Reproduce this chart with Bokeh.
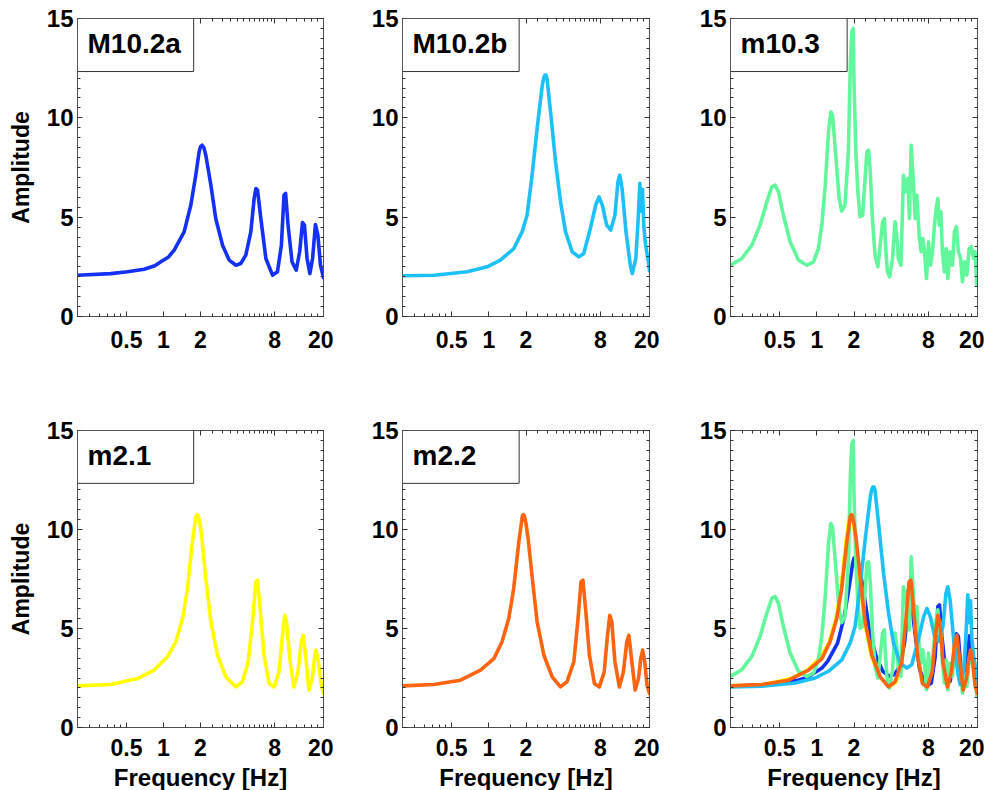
import numpy as np
from bokeh.plotting import figure
from bokeh.models import Range1d, FixedTicker, LinearAxis, LogAxis, BoxAnnotation, Label
from bokeh.layouts import row, column
from bokeh.embed import file_html
from bokeh.resources import INLINE

# ---------------- data ----------------
f_m102a = [0.2, 0.373, 0.51, 0.697, 0.85, 0.952, 1.1, 1.222, 1.472, 1.668, 1.83, 1.95, 2.0, 2.06,
           2.13, 2.21, 2.43, 2.66, 3.02, 3.42, 3.88, 4.25, 4.67, 5.13, 5.46, 5.64, 5.82, 6.19,
           6.8, 7.7, 8.45, 9.09, 9.55, 9.84, 10.3, 11.1, 12.0, 12.8, 13.5, 14.0, 14.7, 15.5,
           16.3, 17.2, 18.0, 18.9, 20.0]
a_m102a = [2.08, 2.16, 2.25, 2.38, 2.55, 2.75, 3.0, 3.34, 4.26, 5.6, 7.11, 8.29, 8.55, 8.62,
           8.5, 8.12, 6.61, 4.93, 3.59, 2.84, 2.58, 2.67, 3.09, 4.26, 5.94, 6.44, 6.36, 4.93,
           2.92, 2.08, 2.25, 3.59, 6.11, 6.19, 4.6, 2.75, 2.33, 3.26, 4.73, 4.6, 2.92, 2.16,
           2.92, 4.63, 4.09, 2.58, 1.95]

f_m102b = [0.2, 0.359, 0.668, 0.970, 1.24, 1.594, 1.86, 2.04, 2.24, 2.46, 2.71, 2.78, 2.84, 2.9,
           2.96, 3.16, 3.47, 3.81, 4.18, 4.73, 5.35, 5.87, 6.64, 7.33, 7.8, 8.3, 9.0, 9.7, 10.5,
           11.1, 11.5, 12.0, 12.9, 14.0, 14.5, 15.5, 16.2, 16.7, 17.1, 17.55, 18.0, 18.6, 19.8,
           20.0]
a_m102b = [2.05, 2.08, 2.25, 2.5, 2.84, 3.42, 4.26, 5.1, 7.11, 9.46, 11.64, 12.0, 12.15, 12.15,
           11.98, 10.3, 7.79, 5.77, 4.26, 3.26, 3.0, 3.17, 4.43, 5.6, 6.02, 5.6, 4.6, 4.35, 5.1,
           6.78, 7.11, 6.44, 4.26, 2.58, 2.16, 2.92, 4.93, 6.7, 5.3, 6.4, 4.5, 3.6, 2.58, 2.3]

f_m103 = [0.2, 0.247, 0.298, 0.347, 0.394, 0.432, 0.46, 0.489, 0.536, 0.608, 0.71, 0.83, 0.94,
          1.03, 1.098, 1.17, 1.243, 1.3, 1.34, 1.43, 1.517, 1.59, 1.69, 1.8, 1.87, 1.92, 1.97,
          2.0, 2.07, 2.15, 2.24, 2.35, 2.46, 2.54, 2.62, 2.71, 2.82, 2.96, 3.12, 3.26, 3.41, 3.52,
          3.6, 3.73, 3.89, 4.1, 4.3, 4.46, 4.57, 4.8, 5.03, 5.26, 5.46, 5.62, 5.81, 6.07, 6.26,
          6.45, 6.74, 7.0, 7.22, 7.45, 7.73, 8.02, 8.33, 8.64, 8.97, 9.26, 9.55, 9.79, 10.1, 10.4,
          10.8, 11.15, 11.5, 12.0, 12.55, 13.0, 13.5, 14.0, 14.6, 15.1, 15.7, 16.4, 17.1, 17.8,
          18.6, 19.1, 19.75, 20.0]
a_m103 = [2.58, 2.92, 3.59, 4.6, 5.77, 6.53, 6.61, 6.28, 5.1, 3.76, 2.84, 2.58, 2.75,
          3.42, 4.6, 6.61, 9.3, 10.3, 10.13, 7.95, 5.94, 5.3, 5.6, 8.29, 12.8, 14.33, 14.5,
          11.8, 8.29, 6.28, 5.02, 5.1, 6.95, 8.29, 8.37, 7.28, 4.93, 3.09, 2.5, 3.59, 4.77, 4.93,
          3.59, 2.25, 2.0, 2.92, 4.77, 3.93, 2.92, 2.58, 7.11, 6.28, 6.95, 4.93, 8.62, 6.61, 4.93,
          6.11, 4.09, 3.26, 3.93, 3.26, 1.91, 3.76, 2.58, 3.26, 4.6, 5.44, 5.94, 4.6, 5.27, 3.26,
          2.25, 3.42, 1.91, 3.26, 2.58, 4.26, 4.51, 3.26, 2.92, 1.74, 2.75, 2.08, 3.42, 3.51,
          2.92, 3.26, 1.58, 1.6]

f_m21 = [0.2, 0.373, 0.615, 0.84, 1.078, 1.26, 1.43, 1.568, 1.72, 1.83, 1.87, 1.91, 1.97, 2.04,
         2.21, 2.43, 2.75, 3.21, 3.88, 4.39, 4.88, 5.3, 5.64, 5.82, 6.11, 6.58, 7.23, 7.93, 8.7,
         9.28, 9.68, 10.0, 10.7, 11.5, 12.4, 13.2, 13.7, 14.3, 15.2, 16.2, 16.9, 17.4, 18.2, 19.2,
         20.0]
a_m21 = [2.1, 2.17, 2.47, 2.9, 3.57, 4.33, 5.5, 7.02, 9.38, 10.64, 10.75, 10.72, 10.4, 9.71,
         7.53, 5.34, 3.65, 2.56, 2.05, 2.31, 3.32, 5.34, 7.36, 7.44, 6.01, 3.65, 2.22, 2.05, 2.81,
         4.66, 5.67, 5.34, 3.32, 2.05, 2.81, 4.33, 4.66, 3.65, 1.89, 2.47, 3.48, 3.91, 3.32, 2.14,
         1.72]

f_m22 = [0.2, 0.359, 0.59, 0.856, 1.099, 1.28, 1.45, 1.59, 1.75, 1.87, 1.905, 1.94, 2.0, 2.08,
         2.25, 2.46, 2.79, 3.26, 3.8, 4.3, 4.88, 5.25, 5.58, 5.78, 6.07, 6.53, 7.16, 7.85, 8.6,
         9.14, 9.54, 9.9, 10.5, 11.4, 12.3, 13.1, 13.6, 14.2, 15.3, 16.3, 17.0, 17.6, 18.3, 19.1,
         20.0]
a_m22 = [2.1, 2.17, 2.39, 2.9, 3.48, 4.33, 5.5, 7.02, 9.38, 10.69, 10.75, 10.69, 10.3, 9.55,
         7.53, 5.34, 3.65, 2.56, 2.05, 2.31, 3.32, 5.34, 7.36, 7.44, 6.01, 3.65, 2.22, 2.05, 2.81,
         4.66, 5.67, 5.34, 3.32, 2.05, 2.81, 4.33, 4.66, 3.65, 1.89, 2.47, 3.48, 3.91, 3.32, 2.14,
         1.72]

names = ["M10.2a", "M10.2b", "m10.3", "m2.1", "m2.2"]
x_tick_values = [0.5, 1, 2, 8, 20]
y_tick_values = [0, 5, 10, 15]

# ---------------- style ----------------
FONT = "Liberation Sans"
COL = {"M10.2a": "#1430f2", "M10.2b": "#1ec0f8", "m10.3": "#62f79c",
       "m2.1": "#ffff00", "m2.2": "#ff6410"}
SERIES = {"M10.2a": (f_m102a, a_m102a), "M10.2b": (f_m102b, a_m102b),
          "m10.3": (f_m103, a_m103), "m2.1": (f_m21, a_m21), "m2.2": (f_m22, a_m22)}
LW = 3.6
X_MINOR = [0.25, 0.3, 0.35, 0.4, 0.45, 1.5, 2.5, 3, 3.5, 4, 4.5, 5, 5.5, 6, 6.5, 7, 7.5,
           10, 12, 14, 16, 18]
Y_MINOR = [i * 0.5 for i in range(31)]
EDGE = "#505050"


def style_axis(ax, labels=True, size="23px"):
    ax.major_tick_in = 5
    ax.major_tick_out = 0
    ax.minor_tick_in = 3
    ax.minor_tick_out = 0
    ax.major_tick_line_color = "#333333"
    ax.minor_tick_line_color = "#333333"
    ax.axis_line_color = EDGE
    if labels:
        ax.major_label_text_font = FONT
        ax.major_label_text_font_style = "bold"
        ax.major_label_text_font_size = size
        ax.major_label_text_color = "black"
    else:
        ax.major_label_text_font_size = "0px"
        ax.major_label_text_color = None
        ax.major_label_standoff = 0


def panel(col, rw, series_names, box_text):
    lb = [77, 69, 71][col]
    rb = [10, 10, 7][col]
    tb = [18, 54][rw]
    bb = [60, 53][rw]
    fh = [298, 297][rw]
    fw = [246, 247, 247][col]
    p = figure(frame_width=fw, frame_height=fh, x_axis_type="log",
               x_range=Range1d(0.2, 20), y_range=Range1d(0, 15),
               output_backend="svg", toolbar_location=None,
               min_border_left=lb, min_border_right=rb,
               min_border_top=tb, min_border_bottom=bb)
    p.xgrid.visible = False
    p.ygrid.visible = False
    p.outline_line_color = EDGE
    p.outline_line_width = 1
    p.background_fill_color = "white"
    p.border_fill_color = "white"

    xt = FixedTicker(ticks=x_tick_values, minor_ticks=X_MINOR)
    yt = FixedTicker(ticks=y_tick_values, minor_ticks=Y_MINOR)
    xa = p.below[0]
    ya = p.left[0]
    xa.ticker = xt
    ya.ticker = yt
    xa.major_label_overrides = {0.5: "0.5", 1: "1", 2: "2", 8: "8", 20: "20"}
    style_axis(xa, True, "23px")
    style_axis(ya, True, "24px")
    xa.major_label_standoff = 14 if rw == 0 else 11
    ya.major_label_standoff = 4

    ra = LinearAxis(ticker=yt)
    style_axis(ra, False)
    p.add_layout(ra, "right")
    ta = LogAxis(ticker=xt)
    style_axis(ta, False)
    p.add_layout(ta, "above")

    if col == 0:
        ya.axis_label = "Amplitude"
        ya.axis_label_text_font = FONT
        ya.axis_label_text_font_style = "bold"
        ya.axis_label_text_font_size = "23px"
        ya.axis_label_text_color = "black"
        ya.axis_label_standoff = 10
    if rw == 1:
        xa.axis_label = "Frequency [Hz]"
        xa.axis_label_text_font = FONT
        xa.axis_label_text_font_style = "bold"
        xa.axis_label_text_font_size = "24px"
        xa.axis_label_text_color = "black"
        xa.axis_label_standoff = 5

    for nm in series_names:
        fx, ay = SERIES[nm]
        p.line(fx, ay, line_color=COL[nm], line_width=LW, line_join="round", line_cap="round")

    if box_text:
        p.add_layout(BoxAnnotation(left=0.2, right=1.76, bottom=12.33, top=15,
                                   fill_color="white", fill_alpha=1.0,
                                   line_color="#333333", line_alpha=1.0, line_width=1,
                                   level="overlay"))
        p.add_layout(Label(x=0.2, y=15, x_offset=10, y_offset=-9, text=box_text,
                           text_baseline="top", text_align="left", text_font=FONT,
                           text_font_style="bold", text_font_size="28px", text_color="black",
                           level="overlay"))
    return p


p1 = panel(0, 0, ["M10.2a"], "M10.2a")
p2 = panel(1, 0, ["M10.2b"], "M10.2b")
p3 = panel(2, 0, ["m10.3"], "m10.3")
p4 = panel(0, 1, ["m2.1"], "m2.1")
p5 = panel(1, 1, ["m2.2"], "m2.2")
p6 = panel(2, 1, ["m2.1", "M10.2a", "m10.3", "M10.2b", "m2.2"], None)

layout = column(row(p1, p2, p3), row(p4, p5, p6))
html = file_html(layout, INLINE)
html = html.replace("</head>", "<style>html, body { overflow: hidden; }</style></head>", 1)
open("out.html", "w").write(html)
